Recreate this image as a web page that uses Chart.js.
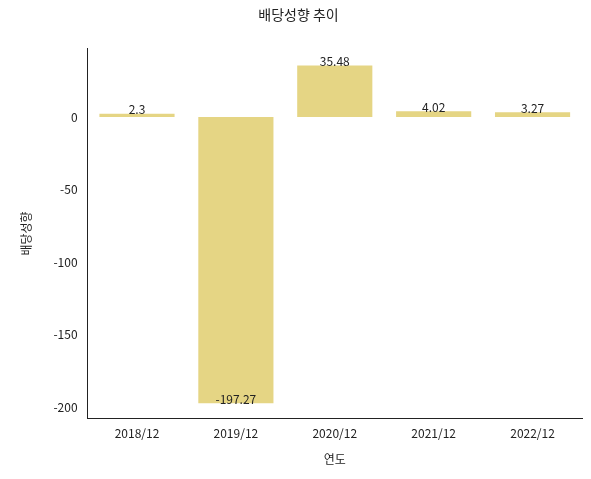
<!DOCTYPE html>
<html>
<head>
<meta charset="utf-8">
<script src="https://cdn.jsdelivr.net/npm/chart.js@4"></script>
<style>
  body { margin: 0; background: #fff; }
  #wrap { width: 591px; height: 479px; }
</style>
</head>
<body>
<div id="wrap"><canvas id="chart"></canvas></div>
<script>
const years = ['2018/12', '2019/12', '2020/12', '2021/12', '2022/12'];
const payoutRatio = [2.3, -197.27, 35.48, 4.02, 3.27];
const yTicks = [0, -50, -100, -150, -200];

const font = { family: "'Noto Sans CJK KR', 'Noto Sans', sans-serif", size: 12 };

// value labels sit on the end of each bar, like matplotlib's bar_label
const barLabels = {
  id: 'barLabels',
  afterDatasetsDraw(chart) {
    const ctx = chart.ctx;
    const meta = chart.getDatasetMeta(0);
    ctx.save();
    ctx.font = "12px 'Noto Sans CJK KR', 'Noto Sans', sans-serif";
    ctx.fillStyle = '#222';
    ctx.textAlign = 'center';
    ctx.textBaseline = 'bottom';
    meta.data.forEach((bar, i) => {
      ctx.fillText(String(payoutRatio[i]), bar.x, bar.y + 2);
    });
    ctx.restore();
  }
};

new Chart(document.getElementById('chart'), {
  type: 'bar',
  data: {
    labels: years,
    datasets: [{
      data: payoutRatio,
      backgroundColor: '#e5d584',
      barPercentage: 0.76,
      categoryPercentage: 1
    }]
  },
  options: {
    responsive: true,
    maintainAspectRatio: false,
    animation: false,
    layout: { padding: { left: 15, right: 9, top: 0, bottom: 8 } },
    plugins: {
      legend: { display: false },
      tooltip: { enabled: false },
      title: {
        display: true,
        text: '배당성향 추이',
        color: '#222',
        font: { ...font, size: 14, weight: 'normal' },
        padding: { top: 6, bottom: 26 }
      }
    },
    scales: {
      x: {
        offset: true,
        grid: { display: false, drawTicks: true, tickLength: 4 },
        border: { display: true, color: '#222' },
        ticks: { color: '#222', font: font, padding: 4 },
        title: { display: true, text: '연도', color: '#222', font: font, padding: { top: 8 } }
      },
      y: {
        min: -207.6,
        max: 47,
        afterBuildTicks(axis) { axis.ticks = yTicks.map(v => ({ value: v })); },
        grid: { display: false, drawTicks: true, tickLength: 4 },
        border: { display: true, color: '#222' },
        ticks: { color: '#222', font: font, padding: 6 },
        title: { display: true, text: '배당성향', color: '#222', font: font, padding: { bottom: 14 } }
      }
    }
  },
  plugins: [barLabels]
});
</script>
</body>
</html>
